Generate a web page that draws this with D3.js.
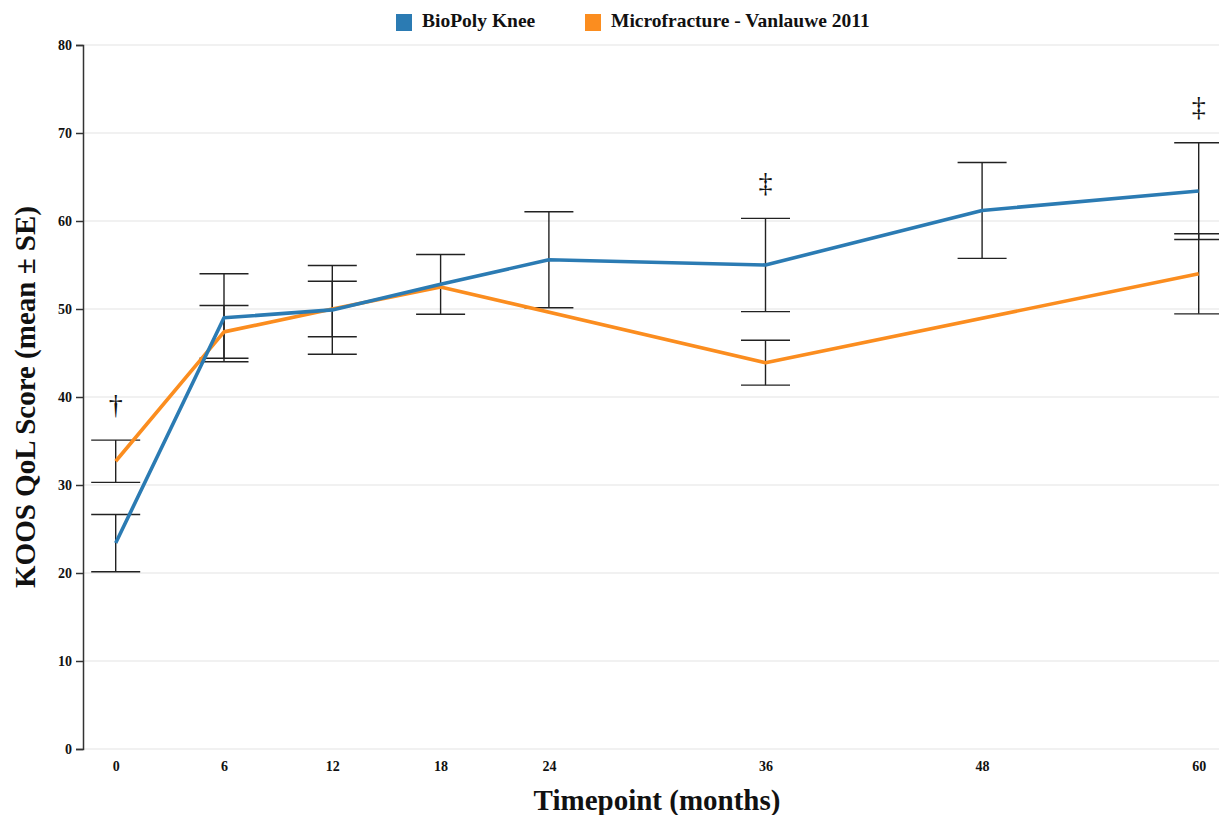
<!DOCTYPE html>
<html>
<head>
<meta charset="utf-8">
<script src="https://cdn.jsdelivr.net/npm/d3@7"></script>
<style>
  html, body { margin: 0; padding: 0; background: #fff; }
  svg { display: block; font-family: "Liberation Serif", "Times New Roman", serif; }
</style>
</head>
<body>
<svg id="chart" width="1219" height="815"></svg>
<script>
// ---- data ----
const seriesNames = ["BioPoly Knee", "Microfracture - Vanlauwe 2011"];
const seriesColors = ["#2b7bb3", "#fb8d1f"];

const bioMonths = [0, 6, 12, 18, 24, 36, 48, 60];
const bioMean   = [23.4, 49.0, 49.9, 52.8, 55.6, 55.0, 61.2, 63.4];
const bioSE     = [3.25, 5.0, 5.05, 3.4, 5.45, 5.3, 5.45, 5.5];

const mfxMonths = [0, 6, 12, 18, 36, 60];
const mfxMean   = [32.7, 47.4, 50.0, 52.5, 43.9, 54.0];
const mfxSE     = [2.4, 3.0, 3.15, null, 2.55, 4.55];

const xTicks = [0, 6, 12, 18, 24, 36, 48, 60];
const yTicks = [0, 10, 20, 30, 40, 50, 60, 70, 80];

const markMonths  = [0, 36, 60];
const markSymbols = ["\u2020", "\u2021", "\u2021"];

(function () {
// ---- layout ----
const svg = d3.select("#chart");
const plotLeft = 83, plotRight = 1219, plotTop = 45, plotBottom = 749;

const x = d3.scaleLinear().domain([0, 60]).range([115.7, 1198.7]);
const y = d3.scaleLinear().domain([0, 80]).range([plotBottom, plotTop]);

// gridlines
svg.append("g").selectAll("line").data(yTicks).join("line")
  .attr("x1", plotLeft).attr("x2", plotRight)
  .attr("y1", d => y(d)).attr("y2", d => y(d))
  .attr("stroke", "#e4e4e4").attr("stroke-width", 1.2);

// y axis
const yAxis = svg.append("g").attr("transform", `translate(${plotLeft},0)`)
  .call(d3.axisLeft(y).tickValues(yTicks).tickSize(7).tickPadding(4));
yAxis.select(".domain").attr("stroke", "#333").attr("stroke-width", 1.5);
yAxis.selectAll(".tick line").attr("stroke", "#333").attr("stroke-width", 1.5);
yAxis.selectAll("text").attr("font-family", "Liberation Serif, serif")
  .attr("font-weight", "bold").attr("font-size", 14).attr("fill", "#111");

// x axis labels (no line)
const xAxis = svg.append("g").attr("transform", `translate(0,${plotBottom})`)
  .call(d3.axisBottom(x).tickValues(xTicks).tickSize(0).tickPadding(12));
xAxis.select(".domain").remove();
xAxis.selectAll("text").attr("font-family", "Liberation Serif, serif")
  .attr("font-weight", "bold").attr("font-size", 14).attr("fill", "#111");

// series structures
const bio = bioMonths.map((m, i) => ({ m, v: bioMean[i], se: bioSE[i] }));
const mfx = mfxMonths.map((m, i) => ({ m, v: mfxMean[i], se: mfxSE[i] }));
const all = [bio, mfx];

// error bars
const capHalf = 24.5;
const eb = svg.append("g").attr("stroke", "#222").attr("stroke-width", 1.4).attr("fill", "none");
all.forEach(series => {
  series.filter(d => d.se != null).forEach(d => {
    const g = eb.append("g");
    g.append("line").attr("x1", x(d.m)).attr("x2", x(d.m))
      .attr("y1", y(d.v + d.se)).attr("y2", y(d.v - d.se));
    g.append("line").attr("x1", x(d.m) - capHalf).attr("x2", x(d.m) + capHalf)
      .attr("y1", y(d.v + d.se)).attr("y2", y(d.v + d.se));
    g.append("line").attr("x1", x(d.m) - capHalf).attr("x2", x(d.m) + capHalf)
      .attr("y1", y(d.v - d.se)).attr("y2", y(d.v - d.se));
  });
});

// lines (orange first, blue on top)
const line = d3.line().x(d => x(d.m)).y(d => y(d.v));
[1, 0].forEach(i => {
  svg.append("path").datum(all[i]).attr("d", line)
    .attr("fill", "none").attr("stroke", seriesColors[i])
    .attr("stroke-width", 3.6).attr("stroke-linejoin", "round");
});

// significance markers
markMonths.forEach((m, i) => {
  let topVal = -Infinity;
  all.forEach(s => s.forEach(d => { if (d.m === m) topVal = Math.max(topVal, d.v + (d.se || 0)); }));
  svg.append("text").attr("x", x(m)).attr("y", y(topVal) - 33)
    .attr("text-anchor", "middle").attr("dominant-baseline", "middle")
    .attr("font-family", "Liberation Serif, serif").attr("font-size", 28)
    .attr("fill", "#111").text(markSymbols[i]);
});

// legend
const legendX = [396, 585];
seriesNames.forEach((name, i) => {
  svg.append("rect").attr("x", legendX[i]).attr("y", 14).attr("width", 16).attr("height", 17)
    .attr("fill", seriesColors[i]);
  svg.append("text").attr("x", legendX[i] + 26).attr("y", 23)
    .attr("dominant-baseline", "middle")
    .attr("font-family", "Liberation Serif, serif").attr("font-weight", "bold")
    .attr("font-size", 19.5).attr("fill", "#111").text(name);
});

// axis titles
svg.append("text").attr("x", 657).attr("y", 810).attr("text-anchor", "middle")
  .attr("font-family", "Liberation Serif, serif").attr("font-weight", "bold")
  .attr("font-size", 29).attr("fill", "#111").text("Timepoint (months)");
svg.append("text").attr("transform", "translate(35,397) rotate(-90)").attr("text-anchor", "middle")
  .attr("font-family", "Liberation Serif, serif").attr("font-weight", "bold")
  .attr("font-size", 29).attr("fill", "#111").text("KOOS QoL Score (mean \u00b1 SE)");
})();
</script>
</body>
</html>
